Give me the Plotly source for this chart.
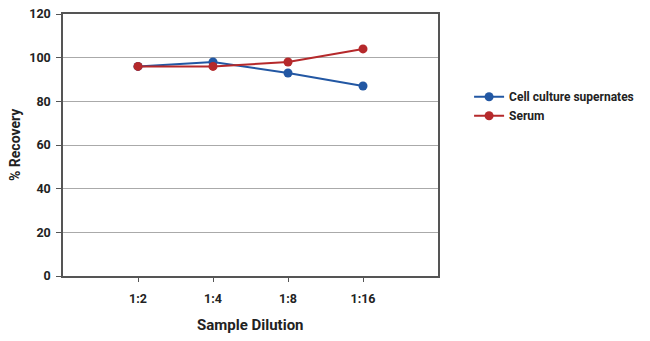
import plotly.graph_objects as go

categories = ["1:2", "1:4", "1:8", "1:16"]
cell_culture = [96, 98, 93, 87]
serum = [96, 96, 98, 104]
y_ticks = [0, 20, 40, 60, 80, 100, 120]

FONT = "Roboto, Liberation Sans Narrow, sans-serif"
TXT = "#222222"

fig = go.Figure()
fig.add_trace(go.Scatter(
    x=list(range(len(categories))), y=cell_culture, name="<b>Cell culture supernates</b>",
    mode="lines+markers", line=dict(color="#2257a3", width=2),
    marker=dict(color="#2257a3", size=9)))
fig.add_trace(go.Scatter(
    x=list(range(len(categories))), y=serum, name="<b>Serum</b>",
    mode="lines+markers", line=dict(color="#b5292b", width=2),
    marker=dict(color="#b5292b", size=9)))

fig.update_layout(
    width=650, height=341,
    margin=dict(l=63, r=211, t=14, b=65),
    plot_bgcolor="white", paper_bgcolor="white",
    font=dict(family=FONT, size=12, color=TXT),
    showlegend=True,
    legend=dict(x=1.08, y=0.648, xanchor="left", yanchor="middle",
                font=dict(family=FONT, size=12, color=TXT),
                bgcolor="rgba(0,0,0,0)", tracegroupgap=0),
    xaxis=dict(
        range=[-1, 4], tickmode="array", automargin=False,
        tickvals=list(range(len(categories))),
        ticktext=["<b>%s</b>" % c for c in categories],
        showgrid=False, zeroline=False,
        showline=True, linecolor="#555555", linewidth=1.5, mirror=True,
        ticks="outside", ticklen=4, tickcolor="#555555",
        ticklabelstandoff=6,
        tickfont=dict(family=FONT, size=12.5, color=TXT),
    ),
    yaxis=dict(
        range=[0, 120], tickmode="array", tickvals=y_ticks, automargin=False,
        ticktext=["<b>%d</b>" % v for v in y_ticks],
        showgrid=True, gridcolor="#aaaaaa", gridwidth=1, zeroline=False,
        showline=True, linecolor="#555555", linewidth=1.5, mirror=True,
        ticks="outside", ticklen=5, tickcolor="#555555",
        ticklabelstandoff=3,
        tickfont=dict(family=FONT, size=12.5, color=TXT),
    ),
    annotations=[
        dict(text="<b>Sample Dilution</b>", xref="paper", yref="paper",
             x=0.5, y=-0.187, xanchor="center", yanchor="middle", showarrow=False,
             font=dict(family=FONT, size=15, color=TXT)),
        dict(text="<b>% Recovery</b>", xref="paper", yref="paper",
             x=-0.128, y=0.5, xanchor="center", yanchor="middle", showarrow=False,
             textangle=-90, font=dict(family=FONT, size=14, color=TXT)),
    ],
)

fig.write_html("out.html")
